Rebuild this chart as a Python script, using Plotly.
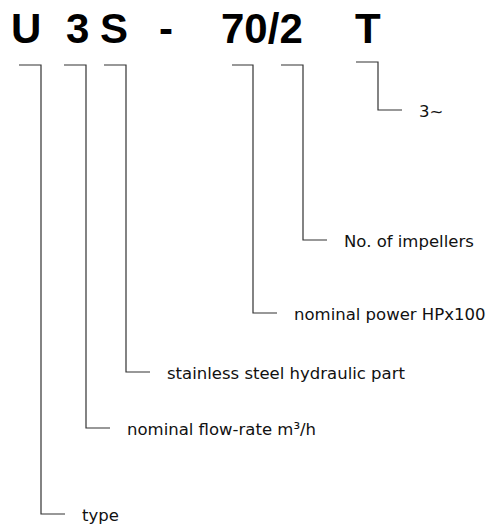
import plotly.graph_objects as go

# --- data ---
code_parts = ["U", "3", "S", "-", "70/2", "T"]
code_x = [25.5, 77.5, 114, 165.5, 262, 368]

descriptions = ["type", "nominal flow-rate m³/h", "stainless steel hydraulic part",
                "nominal power HPx100", "No. of impellers", "3~"]
bracket_left = [19, 64, 104, 232, 281, 356]
bracket_x = [41, 86, 126, 253, 303, 378]
bracket_top = [65, 65, 65, 65, 65, 62]
bracket_bottom = [514, 428, 372, 313, 240, 110]
stub_len = 24
text_gap = 15

fig = go.Figure()

for i, desc in enumerate(descriptions):
    xs = [bracket_left[i], bracket_x[i], bracket_x[i], bracket_x[i] + stub_len]
    ys = [bracket_top[i], bracket_top[i], bracket_bottom[i], bracket_bottom[i]]
    fig.add_trace(go.Scatter(x=xs, y=ys, mode="lines",
                             line=dict(color="#333333", width=1.2),
                             hoverinfo="skip", showlegend=False))
    fig.add_annotation(x=bracket_x[i] + stub_len + text_gap, y=bracket_bottom[i] + 1,
                       text=desc, showarrow=False, xanchor="left", yanchor="middle",
                       font=dict(family="DejaVu Sans", size=16.5, color="#111111"))

for part, x in zip(code_parts, code_x):
    fig.add_annotation(x=x, y=28, text="<b>" + part + "</b>", showarrow=False,
                       xanchor="center", yanchor="middle",
                       font=dict(family="Liberation Sans", size=42, color="#000000"))

fig.update_xaxes(range=[0, 490], visible=False, fixedrange=True)
fig.update_yaxes(range=[524, 0], visible=False, fixedrange=True)
fig.update_layout(width=490, height=524, margin=dict(l=0, r=0, t=0, b=0),
                  plot_bgcolor="white", paper_bgcolor="white")

fig.write_html("out.html", config={"displayModeBar": False},
               post_script="document.body.style.margin='0';document.body.style.overflow='hidden';")
